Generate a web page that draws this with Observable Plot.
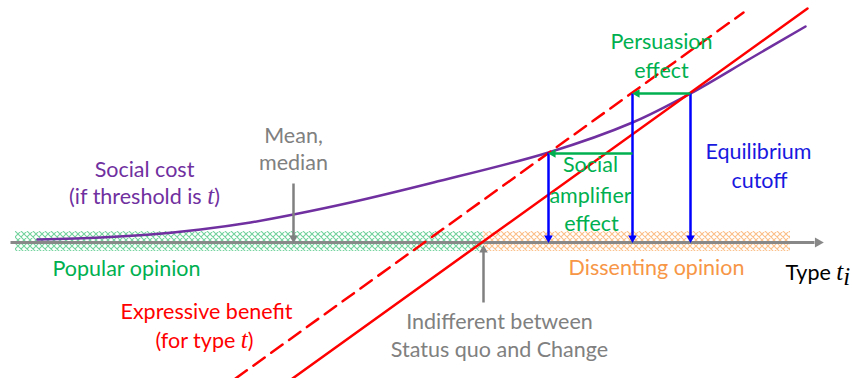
<!DOCTYPE html>
<html><head><meta charset="utf-8">
<script src="https://cdn.jsdelivr.net/npm/d3@7"></script>
<script src="https://cdn.jsdelivr.net/npm/@observablehq/plot@0.6"></script>
<style>html,body{margin:0;padding:0;background:#fff;} svg{display:block}</style>
</head><body><div id="chart"></div>
<script>
// ---- data (x = type t, y = utility value; axis at y = 0) ----
const costT = [37, 100, 150, 200, 250, 293, 350, 433, 548, 632, 690, 750, 805];
const costV = [3, 5, 8, 13, 20, 28, 40, 60, 90, 120, 149, 184, 216];
const benefitT = [292, 807];
const benefitV = [-136, 234];
const shiftedT = [235, 743];
const shiftedV = [-136, 230];
const cutoffT = [548, 632, 690];
const cutoffV = [90, 149, 149];
const shiftFromT = [690, 632];
const shiftToT = [632, 548];
const shiftV = [149, 89];
const popularRange = [15, 483];
const dissentRange = [483, 790];
const meanT = 293, meanTop = 59;
const indiffT = 483, indiffBottom = -60;
const axisRange = [10, 822];

const labelText = ["Social cost", "(if threshold is t)", "Mean,", "median", "Popular opinion",
  "Dissenting opinion", "Expressive benefit", "(for type t)", "Indifferent between",
  "Status quo and Change", "Persuasion", "effect", "Social", "amplifier", "effect",
  "Equilibrium", "cutoff"];
const labelX = [144, 144, 293, 293, 126, 656, 206, 204, 499, 499, 661, 661, 590, 590, 591, 758, 759];
const labelY = [72, 45, 106, 79, -27, -26, -70, -99, -80, -108, 200, 171, 77, 46, 18, 90, 61];
const labelKind = ["cost", "cost", "gray", "gray", "green", "orange", "red", "red", "gray",
  "gray", "green", "green", "green", "green", "green", "blue", "blue"];
const axisTitle = "Type t_i";
const axisTitleX = 785, axisTitleY = -31;

const colors = {cost: "#7030a0", gray: "#808080", green: "#00b050", orange: "#f79646",
  red: "#ff0000", blue: "#1818e0", black: "#000"};

// ---- build tables ----
const cost = costT.map((t, i) => ({t, v: costV[i]}));
const benefit = benefitT.map((t, i) => ({t, v: benefitV[i]}));
const shifted = shiftedT.map((t, i) => ({t, v: shiftedV[i]}));
const cutoffs = cutoffT.map((t, i) => ({t, top: cutoffV[i]}));
const shifts = shiftFromT.map((t, i) => ({t1: t, t2: shiftToT[i], v: shiftV[i]}));
const bands = [
  {x1: popularRange[0], x2: popularRange[1]},
  {x1: dissentRange[0], x2: dissentRange[1]}
];
const labels = labelText.map((text, i) => ({text, x: labelX[i], y: labelY[i], color: colors[labelKind[i]]}));

const headR = 3.2, headOff = 4.6;

const chart = Plot.plot({
  width: 852, height: 378, margin: 0,
  x: {domain: [0, 852], axis: null},
  y: {domain: [-136, 242], axis: null},
  style: {fontFamily: "Lato, 'Open Sans', sans-serif", background: "#fff"},
  marks: [
    // hatched bands
    Plot.rect(bands.slice(0, 1), {x1: "x1", x2: "x2", y1: -9, y2: 11, fill: "url(#hatchGreen)"}),
    Plot.rect(bands.slice(1), {x1: "x1", x2: "x2", y1: -9, y2: 11, fill: "url(#hatchOrange)"}),
    // axis line + arrow head
    Plot.link([{a: axisRange[0], b: axisRange[1] - 8}], {x1: "a", x2: "b", y1: 0, y2: 0, stroke: "#888", strokeWidth: 3}),
    Plot.dot([{t: axisRange[1] - headOff}], {x: "t", y: 0, symbol: "triangle", r: 3.8, rotate: 90, fill: "#888", stroke: "none"}),
    // social cost curve
    Plot.line(cost, {x: "t", y: "v", curve: "catmull-rom", stroke: colors.cost, strokeWidth: 2.5}),
    // expressive benefit
    Plot.line(benefit, {x: "t", y: "v", stroke: colors.red, strokeWidth: 2.5}),
    Plot.line(shifted, {x: "t", y: "v", stroke: colors.red, strokeWidth: 2.5, strokeDasharray: "14,8"}),
    // blue cutoff arrows
    Plot.link(cutoffs, {x1: "t", x2: "t", y1: "top", y2: 6, stroke: "#0000ff", strokeWidth: 2.5}),
    Plot.dot(cutoffs, {x: "t", y: headOff, symbol: "triangle", r: headR, rotate: 180, fill: "#0000ff", stroke: "none"}),
    // green shift arrows
    Plot.link(shifts, {x1: "t1", x2: (d) => d.t2 + 6, y1: "v", y2: "v", stroke: colors.green, strokeWidth: 2.5}),
    Plot.dot(shifts, {x: (d) => d.t2 + headOff, y: "v", symbol: "triangle", r: headR, rotate: -90, fill: colors.green, stroke: "none"}),
    // gray pointer arrows
    Plot.link([{t: meanT}], {x1: "t", x2: "t", y1: meanTop, y2: 6, stroke: "#808080", strokeWidth: 2.5}),
    Plot.dot([{t: meanT}], {x: "t", y: headOff, symbol: "triangle", r: headR, rotate: 180, fill: "#808080", stroke: "none"}),
    Plot.link([{t: indiffT}], {x1: "t", x2: "t", y1: indiffBottom, y2: -9, stroke: "#808080", strokeWidth: 2.5}),
    Plot.dot([{t: indiffT}], {x: "t", y: -3 - headOff, symbol: "triangle", r: headR, rotate: 0, fill: "#808080", stroke: "none"}),
    // labels
    Plot.text(labels, {x: "x", y: "y", text: "text", fill: "color", fontSize: 21.5, textAnchor: "middle"}),
    Plot.text([{s: axisTitle}], {x: axisTitleX, y: axisTitleY, text: "s", fill: "#000", fontSize: 21.5, textAnchor: "start"})
  ]
});

// hatch patterns
const svg = d3.select(chart);
const defs = svg.insert("defs", ":first-child");
function hatch(id, color) {
  const p = defs.append("pattern").attr("id", id).attr("patternUnits", "userSpaceOnUse")
    .attr("width", 6).attr("height", 6);
  p.append("path").attr("d", "M0,0L6,6M6,0L0,6M-1,5L1,7M5,-1L7,1M-1,1L1,-1M5,7L7,5")
    .attr("stroke", color).attr("stroke-width", 1.1).attr("fill", "none");
}
hatch("hatchGreen", "#72d29c");
hatch("hatchOrange", "#fbbf88");

// italic math t
svg.selectAll("text").each(function () {
  const el = d3.select(this);
  const s = this.textContent;
  const m = "font-family=\"Liberation Serif\" font-style=\"italic\" font-size=\"25\"";
  if (s === "(if threshold is t)") el.html(`(if threshold is <tspan ${m}>t</tspan>)`);
  else if (s === "(for type t)") el.html(`(for type <tspan ${m}>t</tspan>)`);
  else if (s === "Type t_i") el.html(`Type <tspan ${m}>t</tspan><tspan ${m} font-size="17" dy="5">i</tspan>`);
});

document.getElementById("chart").appendChild(chart);
</script>
</body></html>
